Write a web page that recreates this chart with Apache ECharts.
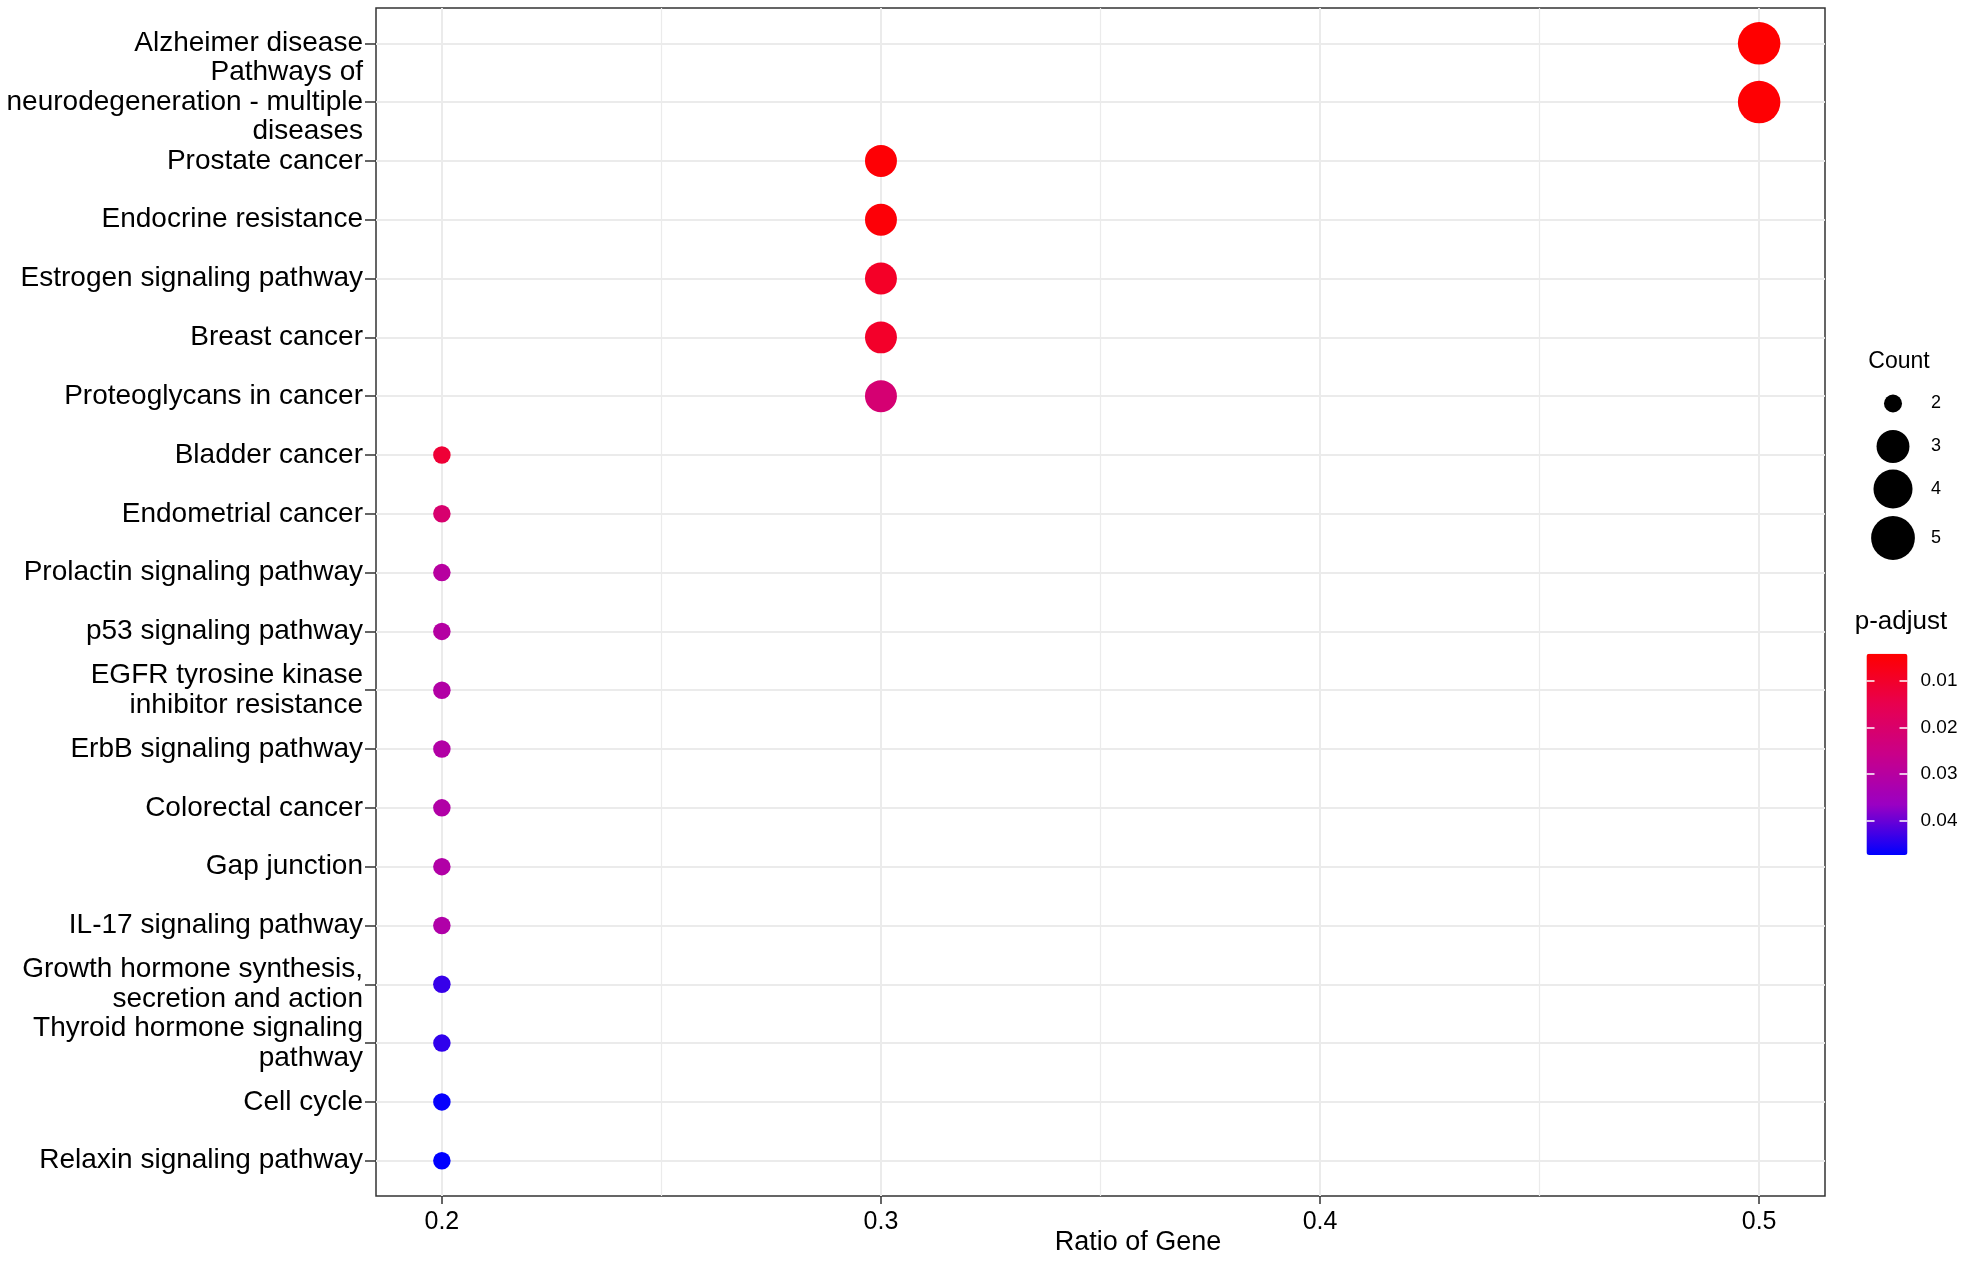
<!DOCTYPE html>
<html>
<head>
<meta charset="utf-8">
<script src="https://cdn.jsdelivr.net/npm/echarts@6/dist/echarts.min.js"></script>
<style>
html,body{margin:0;padding:0;background:#fff;}
#chart{width:1965px;height:1288px;}
</style>
</head>
<body>
<div id="chart"></div>
<script>
// ---- data ----
const categories = [
  'Alzheimer disease',
  'Pathways of\nneurodegeneration - multiple\ndiseases',
  'Prostate cancer',
  'Endocrine resistance',
  'Estrogen signaling pathway',
  'Breast cancer',
  'Proteoglycans in cancer',
  'Bladder cancer',
  'Endometrial cancer',
  'Prolactin signaling pathway',
  'p53 signaling pathway',
  'EGFR tyrosine kinase\ninhibitor resistance',
  'ErbB signaling pathway',
  'Colorectal cancer',
  'Gap junction',
  'IL-17 signaling pathway',
  'Growth hormone synthesis,\nsecretion and action',
  'Thyroid hormone signaling\npathway',
  'Cell cycle',
  'Relaxin signaling pathway'
];
const geneRatio = [0.5, 0.5, 0.3, 0.3, 0.3, 0.3, 0.3, 0.2, 0.2, 0.2, 0.2, 0.2, 0.2, 0.2, 0.2, 0.2, 0.2, 0.2, 0.2, 0.2];
const geneCount = [5, 5, 3, 3, 3, 3, 3, 2, 2, 2, 2, 2, 2, 2, 2, 2, 2, 2, 2, 2];
const pAdjust = [0.0041, 0.0045, 0.0048, 0.0050, 0.0095, 0.0098, 0.0214, 0.0115, 0.0208, 0.0300, 0.0305, 0.0310, 0.0310, 0.0312, 0.0312, 0.0315, 0.0435, 0.0440, 0.0470, 0.0474];
const xTicks = [0.2, 0.3, 0.4, 0.5];
const xMinorTicks = [0.25, 0.35, 0.45];
const countLegend = [2, 3, 4, 5];
const pTicks = [0.01, 0.02, 0.03, 0.04];
const pRange = [0.0041, 0.0474];

// ---- styling helpers ----
const FONT = 'Liberation Sans, Arial, sans-serif';
const sizeOf = c => 17.5 + 25.0 * Math.sqrt((c - 2) / 3);
const gridColor = '#EBEBEB';

const points = categories.map((c, i) => [geneRatio[i], i, pAdjust[i], geneCount[i]]);
const yIdx = categories.map((c, i) => i);

const legendCenterX = 1893;
const legendCentersY = [403.5, 446.5, 489, 538];
const legendTextLeft = 1931;

const legends = countLegend.map((c, k) => {
  const d = sizeOf(c) * 1.03;
  return {
    show: true,
    orient: 'vertical',
    left: legendCenterX - d / 2,
    top: legendCentersY[k] - d / 2,
    padding: 0,
    itemWidth: d,
    itemHeight: d,
    icon: 'circle',
    selectedMode: false,
    itemStyle: { color: '#000', opacity: 1 },
    data: [{ name: String(c), itemStyle: { color: '#000', opacity: 1 } }],
    textStyle: {
      fontFamily: FONT, fontSize: 18, color: '#000',
      padding: [0, 0, 0, legendTextLeft - (legendCenterX + d / 2 + 5)]
    }
  };
});

const legendSeries = countLegend.map(c => ({
  type: 'scatter', name: String(c), xAxisIndex: 0, yAxisIndex: 0,
  data: [], itemStyle: { color: '#000', opacity: 1 }, symbol: 'circle'
}));

const option = {
  backgroundColor: '#fff',
  animation: false,
  title: [
    { text: 'Ratio of Gene', left: 1138, top: 1229, textAlign: 'center',
      textStyle: { fontFamily: FONT, fontSize: 27, fontWeight: 'normal', color: '#000' }, padding: 0 },
    { text: 'Count', left: 1899, top: 350, textAlign: 'center',
      textStyle: { fontFamily: FONT, fontSize: 23, fontWeight: 'normal', color: '#000' }, padding: 0 },
    { text: 'p-adjust', left: 1901, top: 609, textAlign: 'center',
      textStyle: { fontFamily: FONT, fontSize: 26, fontWeight: 'normal', color: '#000' }, padding: 0 }
  ],
  legend: legends,
  grid: [
    { left: 376, top: 8, width: 1449, height: 1188, show: true, backgroundColor: '#fff',
      borderColor: '#333', borderWidth: 1.5, containLabel: false },
    { left: 1866.5, top: 653.7, width: 41, height: 201.4, show: false, containLabel: false }
  ],
  xAxis: [
    { type: 'value', gridIndex: 0, min: 0.185, max: 0.515, position: 'bottom', z: 3,
      axisLine: { show: false, onZero: false },
      axisTick: { show: true, length: 8, customValues: xTicks, lineStyle: { color: '#333', width: 1.5 } },
      axisLabel: { show: true, customValues: xTicks, margin: 14, fontFamily: FONT, fontSize: 25, color: '#000',
        formatter: v => String(v) },
      splitLine: { show: true, lineStyle: { color: gridColor, width: 2 } }
    },
    { type: 'value', gridIndex: 0, min: 0.185, max: 0.515, position: 'bottom',
      axisLine: { show: false, onZero: false },
      axisTick: { show: false, customValues: xMinorTicks },
      axisLabel: { show: false, customValues: xMinorTicks },
      splitLine: { show: true, lineStyle: { color: gridColor, width: 1.2 } }
    },
    { type: 'value', gridIndex: 1, show: false, min: 0, max: 1,
      axisLine: { show: false, onZero: false } }
  ],
  yAxis: [
    { type: 'value', gridIndex: 0, inverse: true, min: -0.6, max: 19.6, z: 3,
      axisLine: { show: false, onZero: false },
      axisTick: { show: true, length: 11, customValues: yIdx, lineStyle: { color: '#333', width: 1.5 } },
      axisLabel: { show: true, customValues: yIdx, margin: 13, fontFamily: FONT, fontSize: 28, lineHeight: 29.5,
        color: '#000', align: 'right', verticalAlign: 'middle',
        formatter: v => categories[Math.round(v)] },
      splitLine: { show: true, lineStyle: { color: gridColor, width: 2 } }
    },
    { type: 'value', gridIndex: 1, inverse: true, min: pRange[0], max: pRange[1], position: 'right', zlevel: 2, z: 10,
      axisLine: { show: false, onZero: false },
      axisTick: { show: true, inside: true, length: 8, customValues: pTicks, lineStyle: { color: '#fff', width: 1.5 } },
      axisLabel: { show: true, customValues: pTicks, margin: 13, fontFamily: FONT, fontSize: 19, color: '#000',
        formatter: v => v.toFixed(2) },
      splitLine: { show: false }
    },
    { type: 'value', gridIndex: 1, inverse: true, min: pRange[0], max: pRange[1], position: 'left', zlevel: 2, z: 10,
      axisLine: { show: false, onZero: false },
      axisTick: { show: true, inside: true, length: 8, customValues: pTicks, lineStyle: { color: '#fff', width: 1.5 } },
      axisLabel: { show: false, customValues: pTicks },
      splitLine: { show: false }
    }
  ],
  visualMap: [{
    type: 'continuous', seriesIndex: 0, dimension: 2,
    min: pRange[0], max: pRange[1], inverse: true,
    left: 1866.5, top: 653.7, itemWidth: 41, itemHeight: 201.4, padding: 0,
    calculable: false, realtime: false, text: null, showLabel: false, hoverLink: false,
    inRange: { color: ['#FF0000', '#E8004F', '#C90089', '#9A00C3', '#0000FF'] },
    z: 4
  }],
  series: [
    { type: 'scatter', name: 'pathways', xAxisIndex: 0, yAxisIndex: 0, z: 5,
      data: points, encode: { x: 0, y: 1 },
      symbol: 'circle', symbolSize: v => sizeOf(v[3]),
      itemStyle: { opacity: 1 } }
  ].concat(legendSeries)
};

const chart = echarts.init(document.getElementById('chart'), null, { renderer: 'canvas' });
chart.setOption(option);
</script>
</body>
</html>
